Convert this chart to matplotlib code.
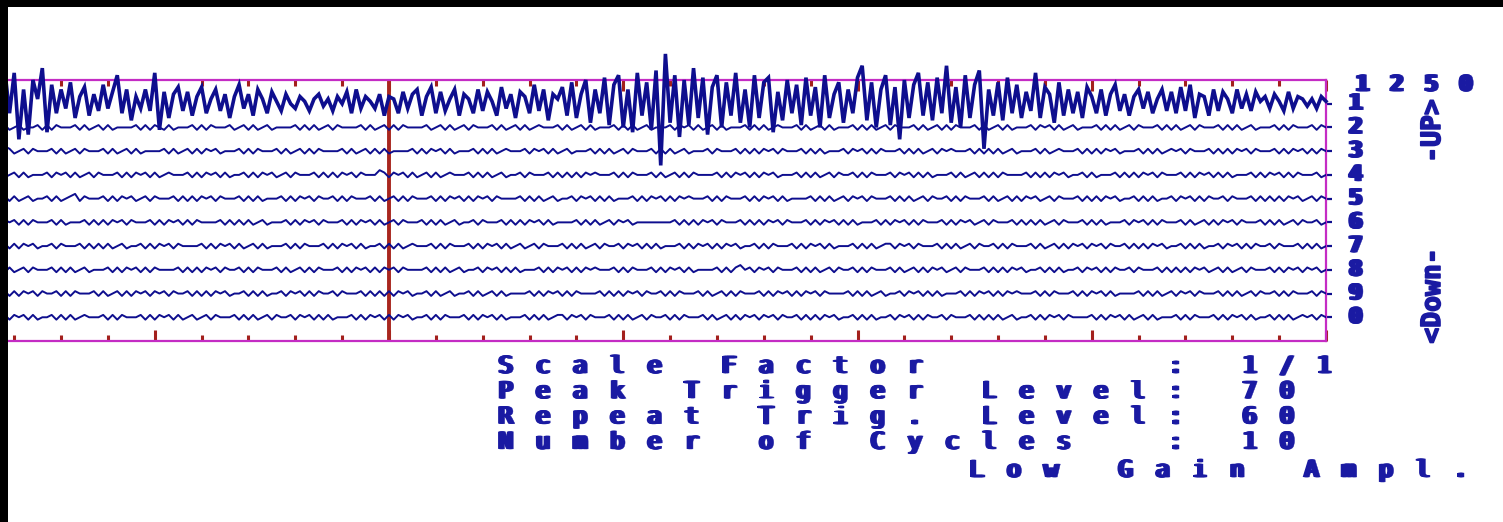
import numpy as np
import matplotlib
matplotlib.use("Agg")
import matplotlib.pyplot as plt
import matplotlib.patheffects as pe
from matplotlib.patches import Rectangle
from matplotlib.ticker import MultipleLocator

# ---- palette -----------------------------------------------------------------
INK   = "#1a1aa2"   # screen text
TRACE = "#0e0e8e"   # channel traces
FRAME = "#c42cc4"   # magenta box
TICK  = "#a3201c"   # dark red tick marks
RED   = "#a8261e"   # trigger marker line
MONO  = "DejaVu Sans Mono"

W, H, DPI = 1503, 522, 100

# ---- data --------------------------------------------------------------------
X_START, X_STEP = -8.3, 0.1          # sample time, in tick units (trigger at 0)
X_END = 20.0

# channel 1, tenths of a channel spacing, positive = up
CH1_VALUES = [
    3, 14, -4, 13, -15, 6, -13, 10, 2, 15,
    -12, 8, -4, 6, -2, 9, -6, 3, 7, -5,
    4, -3, 8, -2, 5, 12, -4, 6, -7, 3,
    -2, 6, -3, 13, -11, 5, -6, 4, 7, -3,
    5, -5, 3, 7, -4, 2, 6, -3, 4, -6,
    3, 8, -2, 4, -5, 6, 2, -4, 5, 1,
    -3, 4, 0, -2, 3, 1, -3, 2, 4, -1,
    2, -3, 3, 0, 5, -4, 6, -2, 3, 1,
    -2, 4, -5, 3, 2, -4, 5, -2, 4, 6,
    -5, 3, 7, -4, 5, -3, 2, 6, -5, 4,
    2, -4, 6, -3, 5, 1, -5, 7, -2, 4,
    -6, 5, 3, -4, 8, -3, 6, -7, 4, 2,
    7, -5, 9, -6, 4, 10, -8, 6, -4, 11,
    -9, 8, 12, -10, 6, -12, 13, -5, 9, -11,
    14, -26, 21, -8, 12, -14, 10, -9, 15, -6,
    11, -13, 7, 12, -10, 9, -5, 13, -8, 6,
    -10, 12, -6, 9, 11, -12, 5, -7, 10, -4,
    8, -9, 11, -5, 7, -10, 12, -6, 4, 9,
    -8, 6, -4, 11, 16, -7, 9, -10, 6, 12,
    -9, 7, -15, 10, -6, 8, 13, -5, 9, -7,
    11, -4, 16, -8, 7, -10, 12, -6, 8, 14,
    -19, 6, -5, 9, -7, 11, -4, 8, -6, 5,
    -3, 13, -6, 7, 4, -8, 9, -5, 6, -4,
    5, -6, 7, 3, -4, 6, -5, 4, 8, -3,
    4, -5, 3, 6, -2, 5, -4, 2, 6, -3,
    5, -4, 7, -3, 8, -6, 4, 3, -5, 6,
    -3, 5, 2, -4, 6, -2, 4, -3, 5, 1,
    3, -2, 4, 1, -3, 5, -2, 3, 2, -1,
    2, -2, 3, 1,
]

# quiet channels: one symbol per sample, v=-2 -=-1 0=0 +=+1 ^=+2 (tenths)
CH2_TRACE = ("0+-0+-00+- +-+000+-+- 0+-+-0000+ -+-+0-+-00 0+-+-+000+ -0+-+-0+-0 "
             "000+-+-+-0 +-+0000+-+ -0+-+-+000 0+-0+-+-0+ -+000+-+-0 +-+-0+000+ "
             "-+-0+-+-00 0+-+-+-0+- 000+-+0+-+ -0+-+-000+ -+-+-0+000 +-+-0+-+-0 "
             "00+-+-+-0+ -+000+-+-0 +-+-+000+- +-0+-+-000 +-+0+-+-0+ -000+-+-+- "
             "0+-+000+-+ -+-0+-+000 +-+-+-0+-0 00+-+-+000 +-+0")
CH3_TRACE = ("0^+-0+-+00 0+-+-0+-+0 00+-+-0+-+ -0000+-+-0 +-+-+0+-00 0+-+-+000+ "
             "-+-0+-+-+0 000+-+-0+- +-+-0000+- +-+0+-+-00 0+-+-+-0+0 00+-+0+-+- "
             "0+-000+-+- +-0+-+000+ -+-+-0+-00 0+-+000+-+ -+-+0+-+00 0+-+-+-000 "
             "+-+0+-+-+0 00+-+-+-0+ -+0+000+-+ -+-+-0+-00 0+-+-0+000 +-+-+-+0+- "
             "000+-+-+-0 +0+-+000+- +-+-+0+-+0 00+-+-+0+- +-+0")
CH4_TRACE = ("+-0+-+-000 +-+0+-+-0+ -+000+-+-+ 0+-+-0+000 +-+-+0+-+- 00+-+-+0+- "
             "0+-+000+-+ -+-+0+-+00 0^+-+0+-+- 0+-+-0+000 +-+-+-0+-0 0+-+000+-+ "
             "-+-+-+0+00 0+-+-+000+ -+-0+-+-+0 000+-+-+0+ -+-+0+-000 +-+-+-0+-+ "
             "00+-+-+000 +-+0+-+-+- 000+-+-0+- +-+-+0000+ -+-+-+0+-0 0+-+-000+- "
             "+-+-+0+-+0 00+-+-+0+- +-+-000+-+ -+0+-+-+00 0+-0")
CH5_TRACE = ("0+-+-0+-00 +-+-0+^-+0 00+-+-+0+- 0+-+000+-+ -+-+0+-+00 0+-+-+-000 "
             "+-+-+0+-+0 0+-+-+000+ -+-0+-+-+0 00+-+-+0+- +-+0+-+000 0+-+-+-0+- "
             "00+-+0+-+- +-000+-+-+ 0+-+-+0+00 0+-+-+000+ -+-+0+-+-0 000+-+-+-0 "
             "+-+0+-+000 +-+-+-0+-+ 00+-+-+000 +-+-0+-+-+ 0+-0+-+000 +-+-+-+0+- "
             "00+-+-+-00 +-+0+-+-+0 0+-+000+-+ -+-+-+0+-0 +-+0")
CH6_TRACE = ("-+0+-+-+00 0+-+-000+- +-+-+0+-+0 00+-+-+0+- +-+0000+-+ -+-+-0+-00 "
             "0+-+-+0+-+ 000+-+-+0+ -+-0+-+000 +-+-+-0+-0 0+-+000+-+ -+-+0+-+-0 "
             "000+-+-+-0 +-+0+-0000 0000+-+-+- +0+-+000+- +-+-+0+-+0 00+-+-+0+- "
             "+-+-000+-+ -+0+-+-+00 0+-+-+0+-0 +-+000+-+- +-+-0+-+00 0+-+-+-000 "
             "+-+0+-+-+0 00+-+-0+-+ -+0+-+000+ -+-+-0+-+0 0+-0")
CH7_TRACE = ("0+-+-+0+-0 0+-+000+-+ -+-+-0+-00 +-+-+0+-+0 000+-+-+0+ -+-0+-+-00 "
             "0+-+-+000+ -+-+0+-+-0 0+-+-+-0+0 00+-+-+000 +-+-+0+-+- 0+-0+-+000 "
             "+-+-+-0+-+ 00+-+0+-+- +-000+-+-+ 0+-+-+0+-0 0+-+-+000+ -+-+0+-+-0 "
             "00+-+-+-0+ +-+0+-+000 +-+-+-0+-+ 00+-+-+000 +-+-0+-+-+ 0+-+0+-+00 "
             "+-+-+-+0+- 00+-+-+-00 +-+0+-+-+0 0+-+000+-+ -+-0")
CH8_TRACE = ("+-+-0+-+00 0+-+-+-0+- 000+-+-+0+ -+-+0000+- +-+-+0+-+0 0+-+-+000+ "
             "-+-0+-+-+0 00+-+-+0+- +-+0+-+000 0+-+-+-0+- 00+-+0+-+- +-000+-+-+ "
             "0+-+-+0+00 0+-+-+000+ -+-+0+-+-0 000+-+-+^0 +-+0+-+000 +-+-+-0+-+ "
             "00+-+-+000 +-+-0+-+-+ 0+-0+-+000 +-+-+-+0+- 00+-+-+-00 +-+0+-+-+0 "
             "0+-+000+-+ -+-+-+0+-0 +-+-0+-+00 0+-+-+0+-+ 0+-0")
CH9_TRACE = ("0+-+-+0+-+ 00+-+-+000 +-+-0+-+-+ 0+-+0+-+00 +-+-+-+0+- 00+-+-+-00 "
             "+-+0+-+-+0 0+-+000+-+ -+-+-+0+-0 0+-+-0+-00 +-+-0+-+-0 000+-+-+0+ "
             "-+-+0000+- +-+-+0+-+0 0+-+-+000+ -+-0+-+-+0 00+-+-+0+- +-+0+-+000 "
             "0+-+-+-0+- 00+-+0+-+- +-000+-+-+ 0+-+-+0+00 0+-+-+000+ -+-+0+-+-0 "
             "000+-+-+-0 +-+0+-+000 +-+-+-0+-+ 00+-+-+000 +-+0")
CH0_TRACE = ("-+-+0+-+-0 0+-+-+-0+0 00+-+-+000 +-+-+0+-+- 0+-0+-+000 +-+-+-0+-+ "
             "00+-+0+-+- +-000+-+-+ 0+-+-+0+-0 0+-+-+000+ -+-+0+-+-0 00+-+-+-0+ "
             "+-+0+-+000 +-+-+-0+-+ 00+-+-+000 +-+-0+-+-+ 0+-+0+-+00 +-+-+-+0+- "
             "00+-+-+-00 +-+0+-+-+0 0+-+000+-+ -+-+-0+-00 +-+-+0+-+0 000+-+-+0+ "
             "-+-0+-+-00 0+-+-+000+ -+-+0+-+-0 0+-+-+-0+0 +-+0")

CHANNEL_LABELS = ["1", "2", "3", "4", "5", "6", "7", "8", "9", "0"]
FULL_SCALE = "1250"
INFO_ROWS = ["Scale Factor      : 1/1",
             "Peak Trigger Level: 70",
             "Repeat Trig. Level: 60",
             "Number of Cycles  : 10"]
AMP_NOTE = "Low Gain Ampl."
UP_LABEL, DOWN_LABEL = "-UP>", "<Down-"

SYM = {"v": -2, "-": -1, "0": 0, "+": 1, "^": 2}


def _decode(s):
    return [SYM[c] for c in s.replace(" ", "")]


# faux-wide pixel font: smear each glyph sideways a little
SMEAR = [pe.PathPatchEffect(offset=(d, 0), facecolor=INK, edgecolor=INK, lw=0.3)
         for d in (0.75, 1.5, 2.25, 3.0)] + [pe.Normal()]


def _spaced(fig, x_px, y_px, text, cell, size, weight="normal"):
    """draw a string on a fixed character grid (x_px = left of first cell, y_px = baseline)"""
    for i, ch in enumerate(text):
        if ch == " ":
            continue
        # shift left by half the smear so the widened glyph stays centred
        t = fig.text((x_px + (i + 0.5) * cell - 2) / W, 1 - y_px / H, ch, ha="center",
                     va="baseline", fontsize=size, fontfamily=MONO,
                     fontweight=weight, color=INK)
        t.set_path_effects(SMEAR)


# ---- figure ------------------------------------------------------------------
fig = plt.figure(figsize=(W / DPI, H / DPI), dpi=DPI)
fig.patch.set_facecolor("white")

box_l, box_r, box_t, box_b = 0, 1326, 80, 341
ax = fig.add_axes([box_l / W, 1 - box_b / H, (box_r - box_l) / W, (box_b - box_t) / H])
ax.set_xlim(-389 / ((box_r - 389) / X_END), X_END)
ax.set_ylim(11, 0)

for side in ("top", "bottom", "right"):
    ax.spines[side].set_color(FRAME)
    ax.spines[side].set_linewidth(1.6)
ax.spines["left"].set_visible(False)

ax.xaxis.set_major_locator(MultipleLocator(5))
ax.xaxis.set_minor_locator(MultipleLocator(1))
ax.tick_params(axis="x", which="both", direction="in", top=True, bottom=True,
               labelbottom=False, color=TICK, width=2.2)
ax.tick_params(axis="x", which="major", length=8)
ax.tick_params(axis="x", which="minor", length=4.5)

ax.yaxis.tick_right()
ax.set_yticks(range(1, 11))
ax.set_yticklabels(CHANNEL_LABELS, fontfamily=MONO, fontweight="bold",
                   fontsize=16, color=INK, va="center")
ax.tick_params(axis="y", which="major", direction="out", length=4, width=1.6,
               color=TRACE, pad=11, left=False)
for t in ax.get_yticklabels():
    t.set_path_effects(SMEAR)

ax.axvline(0, color=RED, lw=2.8, zorder=2)

# channel 1 — the busy one, allowed to poke out of the box
v1 = np.array(CH1_VALUES)
x1 = X_START + X_STEP * np.arange(len(v1))
ax.plot(x1, 1 - v1 / 10, color=TRACE, lw=2.6, zorder=4, clip_on=False,
        solid_joinstyle="miter")

quiet = [CH2_TRACE, CH3_TRACE, CH4_TRACE, CH5_TRACE, CH6_TRACE,
         CH7_TRACE, CH8_TRACE, CH9_TRACE, CH0_TRACE]
for row, trace in enumerate(quiet, start=2):
    v = np.array(_decode(trace))
    x = X_START + X_STEP * np.arange(len(v))
    ax.plot(x, row - v / 10, color=TRACE, lw=1.4, zorder=3)

# ---- screen text -------------------------------------------------------------
_spaced(fig, 1345, 91, FULL_SCALE, 34.5, 16, "bold")
for k, row in enumerate(INFO_ROWS):
    _spaced(fig, 487, 373 + 25.3 * k, row, 37.2, 17)
_spaced(fig, 958, 477, AMP_NOTE, 37.2, 17)

for lab, yc in ((UP_LABEL, 131), (DOWN_LABEL, 296)):
    t = fig.text(1433 / W, 1 - yc / H, lab, rotation=90, ha="center", va="center",
                 fontsize=19, fontfamily=MONO, fontweight="bold", color=INK)
    t.set_path_effects([pe.withStroke(linewidth=1.2, foreground=INK)])

# black screen-capture edges
fig.add_artist(Rectangle((0, 1 - 7 / H), 1, 7 / H, transform=fig.transFigure,
                         facecolor="black", edgecolor="none", zorder=20))
fig.add_artist(Rectangle((0, 0), 8 / W, 1, transform=fig.transFigure,
                         facecolor="black", edgecolor="none", zorder=20))

fig.savefig("out.png", dpi=DPI, facecolor="white")
plt.close(fig)
